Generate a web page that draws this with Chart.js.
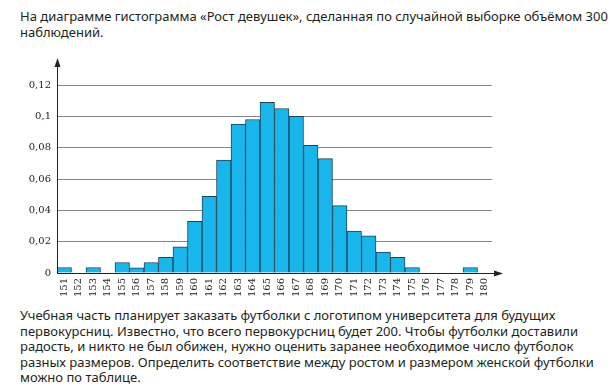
<!DOCTYPE html>
<html><head><meta charset="utf-8">
<script src="https://cdn.jsdelivr.net/npm/chart.js@4/dist/chart.umd.min.js"></script>
<style>
html,body{margin:0;padding:0;background:#fff;width:611px;height:388px;overflow:hidden;}
.t{position:absolute;left:20px;font-family:"Noto Sans",sans-serif;font-size:13px;color:#231f20;white-space:nowrap;line-height:15.5px;}
#wrap{position:absolute;left:0;top:50px;width:520px;height:255px;}
</style></head><body>
<div class="t" style="top:9px;">На диаграмме гистограмма «Рост девушек», сделанная по случайной выборке объёмом 300<br>наблюдений.</div>
<div id="wrap"><canvas id="c"></canvas></div>
<div class="t" style="top:308px;">Учебная часть планирует заказать футболки с логотипом университета для будущих<br>первокурсниц. Известно, что всего первокурсниц будет 200. Чтобы футболки доставили<br>радость, и никто не был обижен, нужно оценить заранее необходимое число футболок<br>разных размеров. Определить соответствие между ростом и размером женской футболки<br>можно по таблице.</div>
<script>
const heights = ['151','152','153','154','155','156','157','158','159','160','161','162','163','164','165','166','167','168','169','170','171','172','173','174','175','176','177','178','179','180'];
const frequency = [0.0035,0,0.0035,0,0.0067,0.0033,0.0067,0.010,0.0167,0.033,0.049,0.072,0.095,0.098,0.109,0.105,0.100,0.0815,0.073,0.043,0.0267,0.0237,0.0133,0.010,0.0035,0,0,0,0.0035,0];
const yTicks = [0,0.02,0.04,0.06,0.08,0.1,0.12];

const arrows = {
  id:'arrows',
  afterDraw(chart){
    const ctx=chart.ctx, a=chart.chartArea;
    ctx.save();
    ctx.strokeStyle='#222';ctx.fillStyle='#222';ctx.lineWidth=1;
    const x0=Math.round(a.left)+0.5, y0=Math.round(a.bottom)+0.5;
    ctx.beginPath();ctx.moveTo(x0,a.bottom);ctx.lineTo(x0,a.top-22);ctx.stroke();
    ctx.beginPath();ctx.moveTo(x0,a.top-27);ctx.lineTo(x0-3,a.top-18);ctx.lineTo(x0+3,a.top-18);ctx.closePath();ctx.fill();
    ctx.beginPath();ctx.moveTo(a.left,y0);ctx.lineTo(a.right+6,y0);ctx.stroke();
    ctx.beginPath();ctx.moveTo(a.right+11,y0);ctx.lineTo(a.right+2,y0-3);ctx.lineTo(a.right+2,y0+3);ctx.closePath();ctx.fill();
    ctx.restore();
  }
};

new Chart(document.getElementById('c'),{
  type:'bar',
  data:{labels:heights,datasets:[{data:frequency,backgroundColor:'#18b6ea',borderColor:'#1d4354',borderWidth:1,categoryPercentage:1,barPercentage:1}]},
  options:{
    responsive:true,maintainAspectRatio:false,animation:false,
    layout:{padding:{top:35,right:28,left:0,bottom:0}},
    plugins:{legend:{display:false},tooltip:{enabled:false}},
    scales:{
      x:{
        grid:{display:false,drawTicks:false},
        border:{display:false},
        ticks:{minRotation:90,maxRotation:90,autoSkip:false,padding:5,color:'#222',font:{family:'"DejaVu Serif",serif',size:10}},
        afterFit(s){s.height=32;}
      },
      y:{
        min:0,max:0.12,
        afterBuildTicks(s){s.ticks=yTicks.map(v=>({value:v}));},
        grid:{color:'#858585',lineWidth:1,drawTicks:false},
        border:{display:false},
        ticks:{padding:6,color:'#222',font:{family:'"DejaVu Serif",serif',size:10},callback:v=>String(v).replace('.',',')},
        afterFit(s){s.width=57;}
      }
    }
  },
  plugins:[arrows]
});
</script>
</body></html>
